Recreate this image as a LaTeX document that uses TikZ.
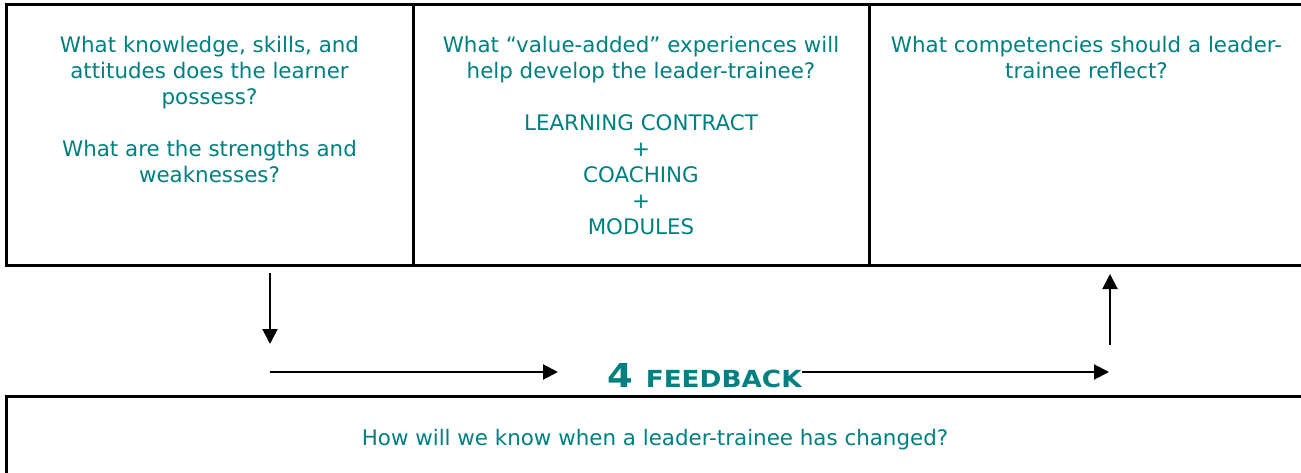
\documentclass[tikz,border=0pt]{standalone}
\usepackage{fontspec}
\setmainfont{DejaVu Sans}
\newfontfamily\fbfont[FakeStretch=1.12]{DejaVu Sans Bold}
\usetikzlibrary{positioning,arrows.meta}
\definecolor{tealtext}{RGB}{0,128,128}

\begin{document}
\begin{tikzpicture}[x=1pt,y=-1pt,node distance=33pt,
  cell/.style={draw, line width=3pt, inner sep=0pt},
  ask/.style={text=tealtext, align=center, inner sep=0pt, font=\fontsize{21.4}{26}\selectfont},
  flow/.style={line width=2pt, -{Triangle[length=15pt,width=15pt]}}]
  \useasboundingbox (0,0) rectangle (1301,473);

  % the three question boxes on top
  \node[cell, minimum width=407pt, minimum height=260pt] (know) at (209.5,135) {};
  \node[cell, minimum width=456pt, minimum height=260pt] (grow) at (641,135) {};
  \node[cell, minimum width=435pt, minimum height=260pt] (aim) at (1086.5,135) {};
  \node[cell, minimum width=1298pt, minimum height=82pt] (change) at (655,437) {};

  \node[ask, below=of know.north] (knowq) {What knowledge, skills, and\\attitudes does the learner\\possess?\\[26pt]What are the strengths and\\weaknesses?};
  \node[ask, below=of grow.north] (growq) {What ``value-added'' experiences will\\help develop the leader-trainee?\\[26pt]LEARNING CONTRACT\\+\\COACHING\\+\\MODULES};
  \node[ask, below=of aim.north] (aimq) {What competencies should a leader-\\trainee reflect?};
  \node[ask, anchor=base, yshift=-8pt] (changeq) at (change.center) {How will we know when a leader-trainee has changed?};

  \node[text=tealtext, inner sep=0pt, anchor=base west] (fb) at (607,387)
    {\fbfont\fontsize{33}{33}\selectfont 4 \fontsize{23.5}{23.5}\selectfont FEEDBACK};

  % loop of arrows round the feedback label
  \coordinate (d1) at (270,273);
  \coordinate (d2) at (270,344);
  \coordinate (h1) at (270,372);
  \coordinate (h2) at (558,372);
  \coordinate (h3) at (1109,372);
  \coordinate (u1) at (1110,345);
  \coordinate (u2) at (1110,274);

  \draw[flow] (d1) -- (d2);
  \draw[flow] (h1) -- (h2);
  \draw[flow] (fb.east |- h3) -- (h3);
  \draw[flow] (u1) -- (u2);
\end{tikzpicture}
\end{document}
